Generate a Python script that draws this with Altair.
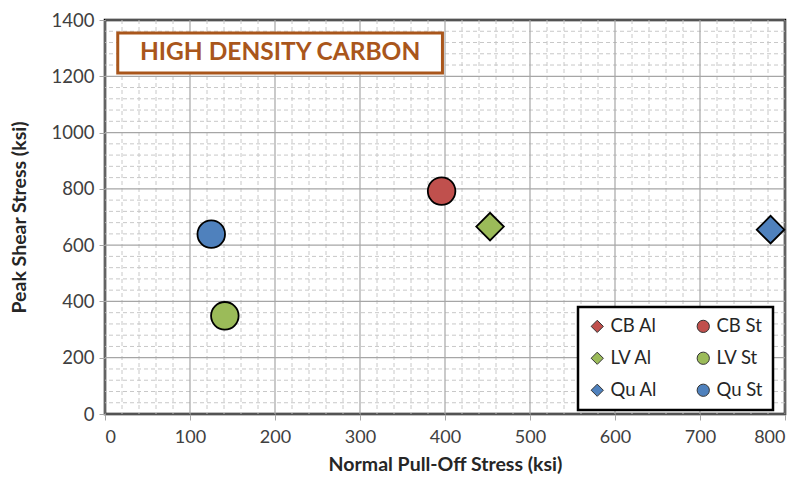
import altair as alt
import pandas as pd

# Measured points (ksi)
series = ["CB St", "LV Al", "Qu Al", "Qu St", "LV St"]
pull_off = [396, 453, 783, 125, 141]
peak_shear = [792, 666, 655, 639, 349]

# Legend entries (listed column by column), colours and symbols
legend_names = ["CB Al", "LV Al", "Qu Al", "CB St", "LV St", "Qu St"]
legend_colors = ["#C0504D", "#9BBB59", "#4F81BD", "#C0504D", "#9BBB59", "#4F81BD"]
legend_shapes = ["diamond", "diamond", "diamond", "circle", "circle", "circle"]

# Axis ticks
x_major = list(range(0, 801, 100))
y_major = list(range(0, 1401, 200))
x_minor = [v for v in range(0, 801, 20) if v % 100]
y_minor = [v for v in range(0, 1401, 40) if v % 200]

# Title banner placement (data units)
banner_text = "HIGH DENSITY CARBON"
banner_x = [15, 397]
banner_y = [1212, 1354]

FONT = "Lato"
BROWN = "#A9561B"

points = pd.DataFrame({"series": series, "x": pull_off, "y": peak_shear})

xscale = alt.Scale(domain=[0, 800], nice=False, zero=False)
yscale = alt.Scale(domain=[0, 1400], nice=False, zero=False)

x_axis = alt.Axis(
    values=x_major, format="d", title="Normal Pull-Off Stress (ksi)", grid=False,
    labelFont=FONT, labelFontSize=18, labelColor="#404040",
    labelPadding=8, tickColor="#a6a6a6", tickSize=6,
    domain=False, titleFont=FONT, titleFontSize=19.5,
    titleFontWeight="bold", titleColor="#262626", titlePadding=9,
)
y_axis = alt.Axis(
    values=y_major, format="d", title="Peak Shear Stress (ksi)", grid=False,
    labelFont=FONT, labelFontSize=18.5, labelColor="#404040",
    labelPadding=5, tickColor="#a6a6a6", tickSize=6,
    domain=False, titleFont=FONT, titleFontSize=19.5,
    titleFontWeight="bold", titleColor="#262626", titlePadding=22,
)

minor_v = alt.Chart(pd.DataFrame({"v": x_minor})).mark_rule(
    color="#c8c8c8", strokeDash=[4, 3], strokeWidth=1
).encode(x=alt.X("v:Q", scale=xscale, axis=x_axis))

minor_h = alt.Chart(pd.DataFrame({"v": y_minor})).mark_rule(
    color="#c8c8c8", strokeDash=[4, 3], strokeWidth=1
).encode(y=alt.Y("v:Q", scale=yscale, axis=y_axis))

major_v = alt.Chart(pd.DataFrame({"v": x_major})).mark_rule(
    color="#a6a6a6", strokeWidth=1.2
).encode(x=alt.X("v:Q", scale=xscale, axis=x_axis))

major_h = alt.Chart(pd.DataFrame({"v": y_major})).mark_rule(
    color="#a6a6a6", strokeWidth=1.2
).encode(y=alt.Y("v:Q", scale=yscale, axis=y_axis))

banner_df = pd.DataFrame({
    "x1": [banner_x[0]], "x2": [banner_x[1]],
    "y1": [banner_y[0]], "y2": [banner_y[1]],
    "xm": [(banner_x[0] + banner_x[1]) / 2],
    "ym": [(banner_y[0] + banner_y[1]) / 2],
    "label": [banner_text],
})

banner_box = alt.Chart(banner_df).mark_rect(
    fill="white", stroke=BROWN, strokeWidth=3
).encode(
    x=alt.X("x1:Q", scale=xscale, axis=x_axis), x2="x2:Q",
    y=alt.Y("y1:Q", scale=yscale, axis=y_axis), y2="y2:Q",
)

banner_label = alt.Chart(banner_df).mark_text(
    font=FONT, fontSize=24.5, fontWeight="bold", color=BROWN,
    align="center", baseline="middle",
).encode(
    x=alt.X("xm:Q", scale=xscale, axis=x_axis),
    y=alt.Y("ym:Q", scale=yscale, axis=y_axis),
    text="label:N",
)

markers = alt.Chart(points).mark_point(
    filled=True, stroke="black", strokeWidth=1.8, opacity=1
).encode(
    x=alt.X("x:Q", scale=xscale, axis=x_axis),
    y=alt.Y("y:Q", scale=yscale, axis=y_axis),
    color=alt.Color(
        "series:N",
        scale=alt.Scale(domain=legend_names, range=legend_colors),
        legend=alt.Legend(
            title=None, orient="none", legendX=473, legendY=287,
            columns=2, columnPadding=36, rowPadding=13,
            labelFont=FONT, labelFontSize=18.5, labelColor="#262626",
            symbolSize=150, symbolStrokeColor="#333333", symbolStrokeWidth=1,
            strokeColor="black", fillColor="white",
            padding=10, labelOffset=4,
        ),
    ),
    shape=alt.Shape(
        "series:N",
        scale=alt.Scale(domain=legend_names, range=legend_shapes),
    ),
    size=alt.value(760),
)

chart = alt.layer(
    minor_v, minor_h, major_v, major_h, banner_box, banner_label, markers
).properties(
    width=680, height=394,
    autosize=alt.AutoSizeParams(type="none"),
    padding={"left": 105, "top": 20, "right": 19, "bottom": 75},
    background="white",
).configure_view(
    stroke="#000000", strokeWidth=2.5
).configure_legend(
    strokeWidth=2.5
)

chart.save("out.html", embed_options={"renderer": "svg", "actions": False})
